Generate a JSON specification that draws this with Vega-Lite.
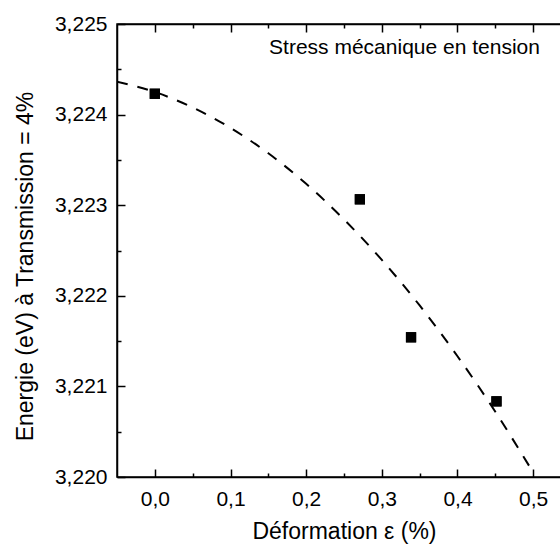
{
  "$schema": "https://vega.github.io/schema/vega-lite/v6.json",
  "width": 454,
  "height": 453,
  "autosize": "none",
  "padding": {"left": 117, "top": 24, "right": 0, "bottom": 70},
  "config": {
    "view": {"stroke": "black", "strokeWidth": 1.5},
    "axis": {
      "labelFont": "Liberation Sans", "titleFont": "Liberation Sans",
      "labelColor": "black", "titleColor": "black", "tickColor": "black", "domainColor": "black",
      "grid": false, "labelFontSize": 21, "titleFontSize": 23, "titleFontWeight": "normal",
      "domainWidth": 1.5, "tickWidth": 1.5
    }
  },
  "datasets": {
    "pts": [
      {"e": 0.0, "E": 3.22423},
      {"e": 0.271, "E": 3.223065},
      {"e": 0.3386, "E": 3.221542},
      {"e": 0.4515, "E": 3.220835}
    ],
    "fit": [
      {"e": -0.05, "E": 3.224364},
      {"e": 0.0, "E": 3.224249},
      {"e": 0.05, "E": 3.224079},
      {"e": 0.1, "E": 3.223853},
      {"e": 0.15, "E": 3.223573},
      {"e": 0.2, "E": 3.223236},
      {"e": 0.25, "E": 3.222843},
      {"e": 0.3, "E": 3.222396},
      {"e": 0.35, "E": 3.221893},
      {"e": 0.4, "E": 3.221333},
      {"e": 0.45, "E": 3.22072},
      {"e": 0.5, "E": 3.22005}
    ],
    "note": [
      {"e": 0.151, "E": 3.22467, "label": "Stress mécanique en tension"}
    ]
  },
  "layer": [
    {
      "data": {"name": "fit"},
      "mark": {"type": "line", "color": "black", "strokeWidth": 2, "strokeDash": [11, 10], "interpolate": "monotone", "clip": true},
      "encoding": {
        "x": {"field": "e", "type": "quantitative",
          "scale": {"domain": [-0.05, 0.55], "nice": false, "zero": false},
          "axis": {"orient": "bottom", "title": "Déformation ε (%)", "values": [0, 0.1, 0.2, 0.3, 0.4, 0.5],
            "labelExpr": "replace(format(datum.value, '.1f'), '.', ',')",
            "tickSize": -8, "labelPadding": 36, "labelBaseline": "alphabetic", "titleY": 61, "titleBaseline": "alphabetic"}},
        "y": {"field": "E", "type": "quantitative",
          "scale": {"domain": [3.22, 3.225], "nice": false, "zero": false},
          "axis": {"orient": "left", "title": "Energie (eV) à Transmission = 4%", "values": [3.22, 3.221, 3.222, 3.223, 3.224, 3.225],
            "labelExpr": "replace(format(datum.value, '.3f'), '.', ',')",
            "tickSize": -8, "labelPadding": 18, "titleX": -85, "titleY": 242, "titleBaseline": "alphabetic"}}
      }
    },
    {
      "data": {"name": "pts"},
      "mark": {"type": "square", "color": "black", "opacity": 1, "size": 105},
      "encoding": {
        "x": {"field": "e", "type": "quantitative",
          "scale": {"domain": [-0.05, 0.55], "nice": false, "zero": false},
          "axis": {"orient": "bottom", "title": null, "values": [0.05, 0.15, 0.25, 0.35, 0.45], "labels": false, "domain": false, "tickSize": -4}},
        "y": {"field": "E", "type": "quantitative",
          "scale": {"domain": [3.22, 3.225], "nice": false, "zero": false},
          "axis": {"orient": "left", "title": null, "values": [3.2205, 3.2215, 3.2225, 3.2235, 3.2245], "labels": false, "domain": false, "tickSize": -4}}
      }
    },
    {
      "data": {"name": "note"},
      "mark": {"type": "text", "align": "left", "baseline": "alphabetic", "font": "Liberation Sans", "fontSize": 21, "color": "black"},
      "encoding": {
        "x": {"field": "e", "type": "quantitative",
          "scale": {"domain": [-0.05, 0.55], "nice": false, "zero": false},
          "axis": {"orient": "top", "title": null, "values": [0, 0.1, 0.2, 0.3, 0.4, 0.5], "labels": false, "tickSize": -8}},
        "y": {"field": "E", "type": "quantitative",
          "scale": {"domain": [3.22, 3.225], "nice": false, "zero": false},
          "axis": {"orient": "right", "title": null, "values": [3.22, 3.221, 3.222, 3.223, 3.224, 3.225], "labels": false, "tickSize": -8}},
        "text": {"field": "label"}
      }
    },
    {
      "data": {"name": "pts"},
      "mark": {"type": "square", "color": "black", "opacity": 1, "size": 105},
      "encoding": {
        "x": {"field": "e", "type": "quantitative",
          "scale": {"domain": [-0.05, 0.55], "nice": false, "zero": false},
          "axis": {"orient": "top", "title": null, "values": [0.05, 0.15, 0.25, 0.35, 0.45], "labels": false, "domain": false, "tickSize": -4}},
        "y": {"field": "E", "type": "quantitative",
          "scale": {"domain": [3.22, 3.225], "nice": false, "zero": false},
          "axis": {"orient": "right", "title": null, "values": [3.2205, 3.2215, 3.2225, 3.2235, 3.2245], "labels": false, "domain": false, "tickSize": -4}}
      }
    }
  ],
  "resolve": {"axis": {"x": "independent", "y": "independent"}}
}
